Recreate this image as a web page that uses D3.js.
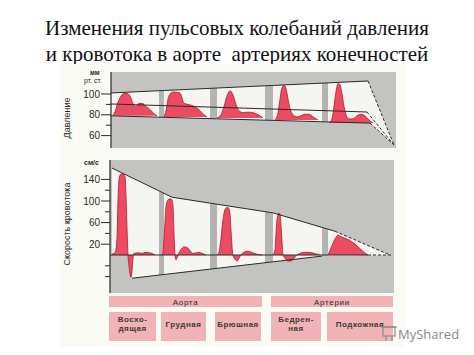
<!DOCTYPE html>
<html>
<head>
<meta charset="utf-8">
<script src="https://cdn.jsdelivr.net/npm/d3@7"></script>
<style>
  body { margin: 0; background: #fff; }
  svg { display: block; }
</style>
</head>
<body>
<div id="chart"></div>
<script>
// title lines
const titleLines = ["Изменения пульсовых колебаний давления", "и кровотока в аорте  артериях конечностей"];

// pressure (mm Hg) curves, x = relative time along the arterial tree
const pressureWaves = [
  [[3,79],[5,83],[8,92],[11,98],[14,100.5],[17,100.5],[20,98],[23,91],[26,88],[29,91],[32,91],[36,88],[40,85],[44,81],[47,79]],
  [[54,78],[56,84],[58,95],[61,101],[64,102],[67,101.5],[70,101],[72,96],[74,91],[78,90],[82,89],[86,87],[90,84],[94,80],[97,78]],
  [[107,77],[111,80],[114,88],[117,98],[120,103],[123,99],[126,90],[129,84],[133,82],[138,82.5],[143,82],[148,80],[153,77]],
  [[165,75],[168,82],[170,95],[172,106],[174,108.5],[176,105],[178,95],[180,86],[183,80],[187,78],[191,79],[195,80.5],[199,80.5],[203,78],[208,75]],
  [[219,72],[222,76],[224,88],[226,102],[228,110],[230,109],[232,100],[234,88],[236,80],[239,76],[243,76],[247,79],[251,80.5],[255,79],[259,75],[263,72]]
];
const pressureTop = [[1,101],[258,112.5]];
const pressureMean = [[1,90.4],[257,82.7]];
const pressureLow = [[1,79],[260,72]];
const pressureApex = [284,51];
const pressureTicks = [100, 80, 60];
const pressureMinor = [90, 70];

// blood flow velocity (cm/s) curves
const flowWaves = [
  [[2,2],[5,4],[7,30],[8,100],[9,140],[11,150],[13,150],[15,145],[16,110],[17,50],[18,0],[19,-20],[20,-35],[21,-41],[22,-30],[23,-5],[24,3],[28,4],[32,3],[36,5],[40,4],[43,2],[45,0]],
  [[52,0],[53,5],[55,60],[56,90],[58,102],[60,104],[62,102],[63,90],[64,40],[65,0],[66,-9],[67,-6],[68,0],[71,10],[74,15],[77,14],[80,8],[83,3],[86,4],[89,5],[92,3],[96,0]],
  [[107,0],[109,5],[111,30],[113,65],[115,84],[117,88],[119,86],[120,75],[121,45],[122,15],[123,0],[125,-8],[127,-11],[129,-6],[131,0],[134,5],[137,7],[140,6],[144,3],[148,1],[152,0]],
  [[163,0],[165,10],[166,40],[167,65],[169,78],[170,76],[171,55],[172,25],[173,0],[175,-6],[178,-11],[181,-11],[184,-6],[187,0],[190,3],[194,5],[198,5],[202,4],[206,2],[210,0]],
  [[218,0],[220,8],[223,22],[226,33],[228,37],[231,34],[235,31],[239,28],[243,23],[247,17],[251,10],[254,5],[258,0]]
];
const flowTop = [[2,161],[62,107],[163,78],[225,44],[280,0]];
const flowBottom = [[22,-43],[212,-2]];
const flowEnd = 283;
const flowTicks = [140, 100, 60, 20];
const flowMinor = [120, 80, 40, -20, -40];

// separators between vessel segments
const separators = [[49,54],[100,107],[155,163],[212,218]];

// vessel labels
const groupNames = ["Аорта", "Артерии"];
const groupSpans = [[-1,152],[161,283]];
const segmentNames = [["Восхо-","дящая"],["Грудная"],["Брюшная"],["Бедрен-","ная"],["Подкожная"]];
const segmentSpans = [[-1,46],[51,96],[105,151],[161,211],[217,283]];

const W = 474, H = 355;
const svg = d3.select("#chart").append("svg").attr("width", W).attr("height", H);
const sans = "'Liberation Sans', Arial, sans-serif";

const x = d3.scaleLinear().domain([0, 285]).range([110, 395]);
const pY = d3.scaleLinear().domain([60, 100]).range([135.6, 94]);
const fY = d3.scaleLinear().domain([0, 140]).range([255, 179.4]);

const red = "#eb4c62", redDark = "#c51d33";
const grayBg = "#c3c3c1", light = "#f5f5f2", sepGray = "#b4b4b2", ink = "#2a2a2a";

// title
svg.selectAll(".title").data(titleLines).enter().append("text")
  .attr("x", W / 2).attr("y", (d, i) => 35 + i * 26)
  .attr("text-anchor", "middle")
  .attr("font-family", "'Liberation Serif', 'Times New Roman', serif")
  .attr("font-size", 21).attr("fill", "#111")
  .style("white-space", "pre")
  .text(d => d);

// faint scan background
svg.append("rect").attr("x", 60).attr("y", 64).attr("width", 345).attr("height", 283).attr("fill", "#fbfbf6");

const defs = svg.append("defs");
const line = d3.line().x(d => x(d[0]));

// ---------- pressure panel ----------
const pPanel = svg.append("g");
pPanel.append("rect").attr("x", 111).attr("y", 72).attr("width", 285).attr("height", 76).attr("fill", grayBg);

const pPoly = pressureTop.concat([pressureApex], pressureLow.slice().reverse());
const pPolyLine = line.y(d => pY(d[1]));
defs.append("clipPath").attr("id", "pclip").append("path").attr("d", pPolyLine(pPoly) + "Z");
pPanel.append("path").attr("d", pPolyLine(pPoly) + "Z").attr("fill", light);
pPanel.append("g").attr("clip-path", "url(#pclip)")
  .selectAll("rect").data(separators).enter().append("rect")
  .attr("x", d => x(d[0])).attr("width", d => x(d[1]) - x(d[0]))
  .attr("y", 60).attr("height", 100).attr("fill", sepGray);

const pWave = d3.line().x(d => x(d[0])).y(d => pY(d[1])).curve(d3.curveMonotoneX);
pPanel.selectAll(".pw").data(pressureWaves).enter().append("path")
  .attr("d", d => pWave(d) + "Z").attr("fill", red).attr("stroke", "none");
pPanel.selectAll(".pws").data(pressureWaves).enter().append("path")
  .attr("d", d => pWave(d)).attr("fill", "none").attr("stroke", redDark).attr("stroke-width", 0.9);

[pressureTop, pressureMean, pressureLow].forEach(l => {
  pPanel.append("path").attr("d", pPolyLine(l)).attr("fill", "none").attr("stroke", ink).attr("stroke-width", 1);
  pPanel.append("path").attr("d", pPolyLine([l[l.length - 1], pressureApex])).attr("fill", "none")
    .attr("stroke", ink).attr("stroke-width", 1).attr("stroke-dasharray", "3,2");
});

const pAxis = pPanel.append("g").attr("transform", "translate(111,0)");
pAxis.append("line").attr("y1", 72).attr("y2", 148).attr("stroke", ink).attr("stroke-width", 1.2);
pAxis.selectAll(".mj").data(pressureTicks).enter().append("line")
  .attr("x1", -10).attr("x2", 0).attr("y1", d => pY(d)).attr("y2", d => pY(d)).attr("stroke", ink);
pAxis.selectAll(".mn").data(pressureMinor).enter().append("line")
  .attr("x1", -5).attr("x2", 0).attr("y1", d => pY(d)).attr("y2", d => pY(d)).attr("stroke", ink);
pAxis.selectAll(".lb").data(pressureTicks).enter().append("text")
  .attr("x", -11).attr("y", d => pY(d) + 3.5).attr("text-anchor", "end")
  .attr("font-family", sans).attr("font-size", 10).attr("fill", ink).text(d => d);
pPanel.append("text").attr("x", 90).attr("y", 75).attr("font-family", sans).attr("font-size", 6.5)
  .attr("font-weight", "bold").attr("fill", ink).text("мм");
pPanel.append("text").attr("x", 84).attr("y", 83).attr("font-family", sans).attr("font-size", 7)
  .attr("fill", ink).text("рт. ст.");
pPanel.append("text").attr("transform", "translate(70,118) rotate(-90)").attr("text-anchor", "middle")
  .attr("font-family", sans).attr("font-size", 9).attr("fill", ink).text("Давление");

// ---------- flow panel ----------
const fPanel = svg.append("g");
fPanel.append("rect").attr("x", 110).attr("y", 160).attr("width", 284).attr("height", 133).attr("fill", grayBg);

const fLine = d3.line().x(d => x(d[0])).y(d => fY(d[1]));
const fPoly = [[2, 0]].concat(flowTop, [[flowEnd, 0], flowBottom[1]], [flowBottom[0], [flowBottom[0][0], 0]]);
defs.append("clipPath").attr("id", "fclip").append("path").attr("d", fLine(fPoly) + "Z");
fPanel.append("path").attr("d", fLine(fPoly) + "Z").attr("fill", light);
fPanel.append("g").attr("clip-path", "url(#fclip)")
  .selectAll("rect").data(separators).enter().append("rect")
  .attr("x", d => x(d[0])).attr("width", d => x(d[1]) - x(d[0]))
  .attr("y", 160).attr("height", 133).attr("fill", sepGray);

const fArea = d3.area().x(d => x(d[0])).y0(fY(0)).y1(d => fY(d[1])).curve(d3.curveMonotoneX);
const fWave = d3.line().x(d => x(d[0])).y(d => fY(d[1])).curve(d3.curveMonotoneX);
fPanel.selectAll(".fw").data(flowWaves).enter().append("path")
  .attr("d", fArea).attr("fill", red);
fPanel.selectAll(".fws").data(flowWaves).enter().append("path")
  .attr("d", fWave).attr("fill", "none").attr("stroke", redDark).attr("stroke-width", 0.9);

// envelope lines
fPanel.append("path").attr("d", fLine(flowTop.slice(0, 4))).attr("fill", "none").attr("stroke", ink);
fPanel.append("path").attr("d", fLine(flowTop.slice(3))).attr("fill", "none").attr("stroke", ink).attr("stroke-dasharray", "3,2");
fPanel.append("path").attr("d", fLine(flowBottom)).attr("fill", "none").attr("stroke", ink);
fPanel.append("path").attr("d", fLine([[0, 0], [258, 0]])).attr("fill", "none").attr("stroke", ink);
fPanel.append("path").attr("d", fLine([[258, 0], [flowEnd, 0]])).attr("fill", "none").attr("stroke", ink).attr("stroke-dasharray", "3,2");

const fAxis = fPanel.append("g").attr("transform", "translate(110,0)");
fAxis.append("line").attr("y1", 160).attr("y2", 293).attr("stroke", ink).attr("stroke-width", 1.2);
fAxis.selectAll(".mj").data(flowTicks).enter().append("line")
  .attr("x1", -9).attr("x2", 0).attr("y1", d => fY(d)).attr("y2", d => fY(d)).attr("stroke", ink);
fAxis.selectAll(".mn").data(flowMinor).enter().append("line")
  .attr("x1", -5).attr("x2", 0).attr("y1", d => fY(d)).attr("y2", d => fY(d)).attr("stroke", ink);
fAxis.selectAll(".lb").data(flowTicks).enter().append("text")
  .attr("x", -10).attr("y", d => fY(d) + 3.5).attr("text-anchor", "end")
  .attr("font-family", sans).attr("font-size", 10).attr("fill", ink).text(d => d);
fPanel.append("text").attr("x", 84).attr("y", 165).attr("font-family", sans).attr("font-size", 7)
  .attr("font-weight", "bold").attr("fill", ink).text("см/с");
fPanel.append("text").attr("transform", "translate(70,224) rotate(-90)").attr("text-anchor", "middle")
  .attr("font-family", sans).attr("font-size", 9).attr("fill", ink).text("Скорость кровотока");

// ---------- vessel labels ----------
const lab = svg.append("g");
const boxFill = "#f2b3b6";
groupNames.forEach((name, i) => {
  const [a, b] = groupSpans[i];
  lab.append("rect").attr("x", x(a)).attr("y", 296).attr("width", x(b) - x(a)).attr("height", 11).attr("fill", boxFill);
  lab.append("text").attr("x", (x(a) + x(b)) / 2).attr("y", 304.5).attr("text-anchor", "middle")
    .attr("font-family", sans).attr("font-size", 8).attr("letter-spacing", 0.7)
    .attr("fill", ink).text(name);
});
segmentNames.forEach((lines, i) => {
  const [a, b] = segmentSpans[i];
  lab.append("rect").attr("x", x(a)).attr("y", 312).attr("width", x(b) - x(a)).attr("height", 29).attr("fill", boxFill);
  lines.forEach((t, j) => {
    lab.append("text").attr("x", (x(a) + x(b)) / 2)
      .attr("y", 326.5 + (j - (lines.length - 1) / 2) * 9)
      .attr("text-anchor", "middle").attr("font-family", sans).attr("font-size", 8)
      .attr("letter-spacing", 0.5).attr("font-weight", "bold").attr("fill", "#3a3a3a").text(t);
  });
});

// watermark
const wm = svg.append("g").attr("fill", "none").attr("stroke", "#8a8a8a").attr("stroke-width", 1.2);
wm.append("rect").attr("x", 383).attr("y", 327).attr("width", 12).attr("height", 9);
wm.append("line").attr("x1", 386).attr("x2", 386).attr("y1", 336).attr("y2", 341);
wm.append("line").attr("x1", 392).attr("x2", 392).attr("y1", 336).attr("y2", 341);
wm.append("line").attr("x1", 381).attr("x2", 397).attr("y1", 327).attr("y2", 327);
svg.append("text").attr("x", 398).attr("y", 339).attr("font-family", "'Open Sans', 'Noto Sans', sans-serif")
  .attr("font-size", 13).attr("fill", "#8a8a8a").text("MyShared");
</script>
</body>
</html>
